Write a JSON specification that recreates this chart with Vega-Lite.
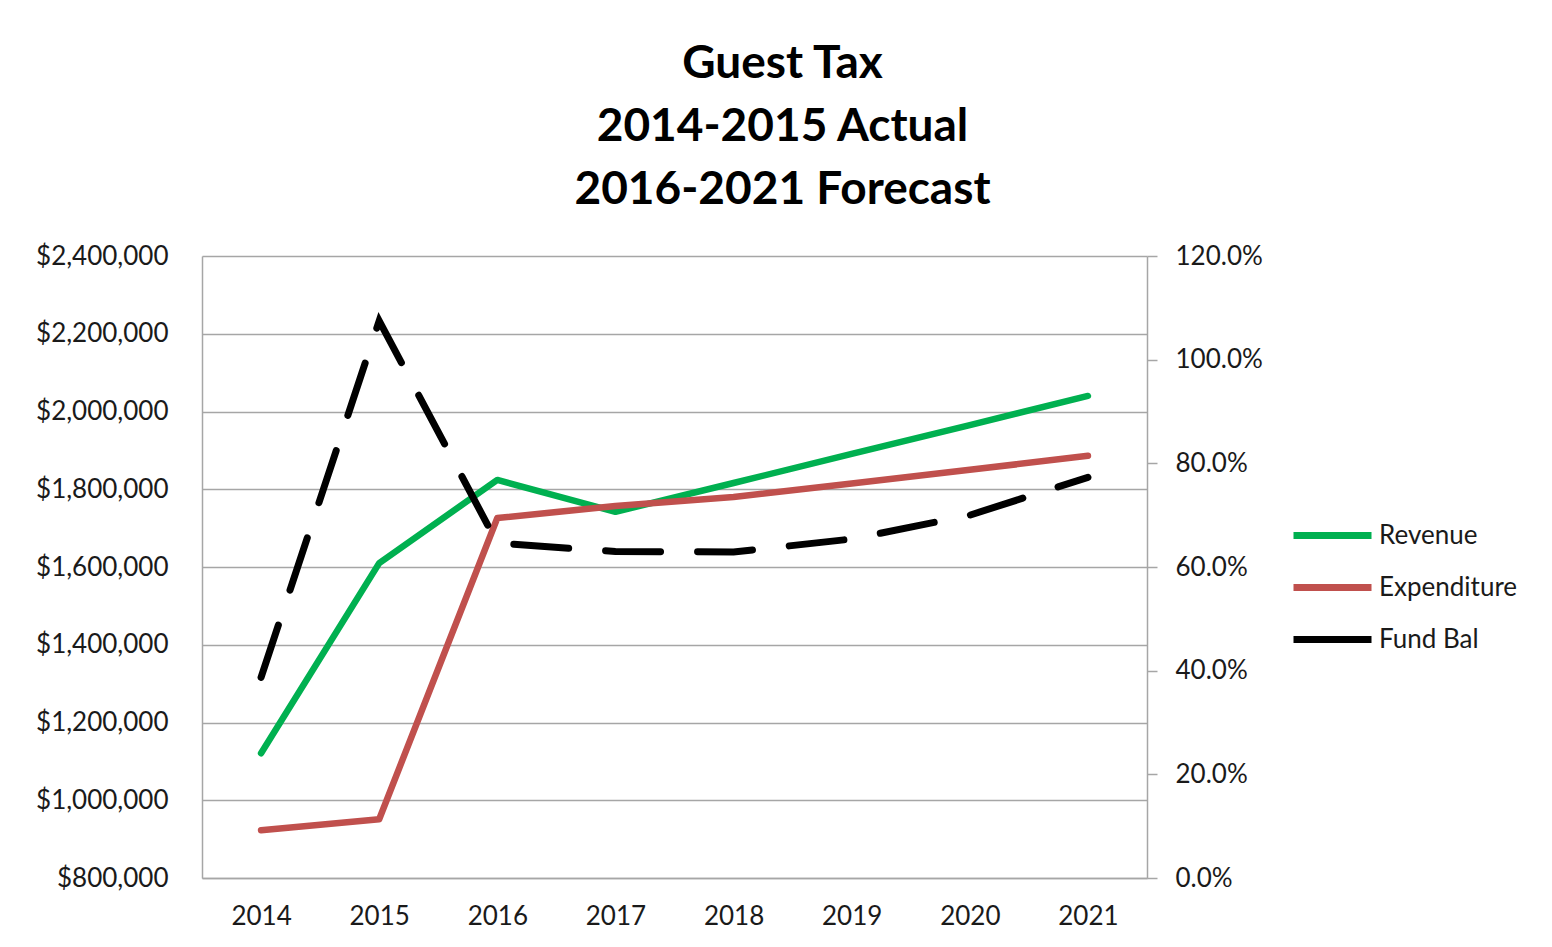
{
  "$schema": "https://vega.github.io/schema/vega-lite/v6.json",
  "autosize": {"type": "none"},
  "width": 945,
  "height": 622,
  "padding": {"left": 202, "top": 256, "right": 405, "bottom": 69},
  "background": "white",
  "config": {
    "font": "Lato",
    "view": {"stroke": null},
    "axis": {"labelFont": "Lato", "labelFontSize": 26, "labelColor": "#1a1a1a", "titleFont": "Lato"},
    "legend": {"labelFont": "Lato", "labelFontSize": 26, "labelColor": "#1a1a1a"}
  },
  "title": {
    "text": ["Guest Tax", "2014-2015 Actual", "2016-2021 Forecast"],
    "fontSize": 46,
    "fontWeight": "bold",
    "font": "Lato",
    "color": "#000000",
    "lineHeight": 63,
    "anchor": "middle",
    "dx": 108,
    "offset": 29
  },
  "data": {
    "values": [
      {"year": "2014", "series": "Revenue", "value": 1121000},
      {"year": "2015", "series": "Revenue", "value": 1610000},
      {"year": "2016", "series": "Revenue", "value": 1824000},
      {"year": "2017", "series": "Revenue", "value": 1742000},
      {"year": "2018", "series": "Revenue", "value": 1816000},
      {"year": "2019", "series": "Revenue", "value": 1891000},
      {"year": "2020", "series": "Revenue", "value": 1965000},
      {"year": "2021", "series": "Revenue", "value": 2040000},
      {"year": "2014", "series": "Expenditure", "value": 923000},
      {"year": "2015", "series": "Expenditure", "value": 951000},
      {"year": "2016", "series": "Expenditure", "value": 1726000},
      {"year": "2017", "series": "Expenditure", "value": 1757000},
      {"year": "2018", "series": "Expenditure", "value": 1780000},
      {"year": "2019", "series": "Expenditure", "value": 1815000},
      {"year": "2020", "series": "Expenditure", "value": 1850000},
      {"year": "2021", "series": "Expenditure", "value": 1886000},
      {"year": "2014", "series": "Fund Bal", "value": 0.387},
      {"year": "2015", "series": "Fund Bal", "value": 1.075},
      {"year": "2016", "series": "Fund Bal", "value": 0.646},
      {"year": "2017", "series": "Fund Bal", "value": 0.630},
      {"year": "2018", "series": "Fund Bal", "value": 0.629},
      {"year": "2019", "series": "Fund Bal", "value": 0.654},
      {"year": "2020", "series": "Fund Bal", "value": 0.700},
      {"year": "2021", "series": "Fund Bal", "value": 0.773}
    ]
  },
  "encoding": {
    "x": {
      "field": "year",
      "type": "ordinal",
      "scale": {"type": "point", "padding": 0.5},
      "axis": {
        "title": null,
        "labelAngle": 0,
        "ticks": false,
        "domainColor": "#a6a6a6",
        "domainWidth": 1.5,
        "labelPadding": 25
      }
    },
    "color": {
      "field": "series",
      "type": "nominal",
      "scale": {
        "domain": ["Revenue", "Expenditure", "Fund Bal"],
        "range": ["#00b050", "#c0504d", "#000000"]
      },
      "legend": {
        "title": null,
        "orient": "none",
        "legendX": 1101,
        "legendY": 250,
        "padding": 0,
        "symbolType": "M-1.5,0H1.5",
        "symbolSize": 2704,
        "symbolStrokeWidth": 7,
        "labelOffset": 17,
        "rowPadding": 8,
        "labelLimit": 300
      }
    }
  },
  "layer": [
    {
      "transform": [{"filter": "datum.series !== 'Fund Bal'"}],
      "mark": {"type": "line", "strokeWidth": 6.5, "strokeCap": "round", "strokeJoin": "round"},
      "encoding": {
        "y": {
          "field": "value",
          "type": "quantitative",
          "scale": {"domain": [800000, 2400000], "nice": false, "zero": false},
          "axis": {
            "title": null,
            "values": [800000, 1000000, 1200000, 1400000, 1600000, 1800000, 2000000, 2200000, 2400000],
            "format": "$,.0f",
            "ticks": false,
            "domainColor": "#a6a6a6",
            "domainWidth": 1.5,
            "grid": true,
            "gridColor": "#a6a6a6",
            "gridWidth": 1.5,
            "labelPadding": 34
          }
        }
      }
    },
    {
      "transform": [{"filter": "datum.series === 'Fund Bal'"}],
      "mark": {"type": "line", "strokeWidth": 7, "strokeCap": "round", "strokeDash": [55, 37]},
      "encoding": {
        "y": {
          "field": "value",
          "type": "quantitative",
          "scale": {"domain": [0, 1.2], "nice": false},
          "axis": {
            "title": null,
            "orient": "right",
            "values": [0, 0.2, 0.4, 0.6, 0.8, 1.0, 1.2],
            "format": ".1%",
            "ticks": true,
            "tickSize": 10,
            "tickColor": "#a6a6a6",
            "tickWidth": 1.5,
            "domainColor": "#a6a6a6",
            "domainWidth": 1.5,
            "grid": false,
            "labelPadding": 18
          }
        }
      }
    }
  ],
  "resolve": {"scale": {"y": "independent"}}
}
